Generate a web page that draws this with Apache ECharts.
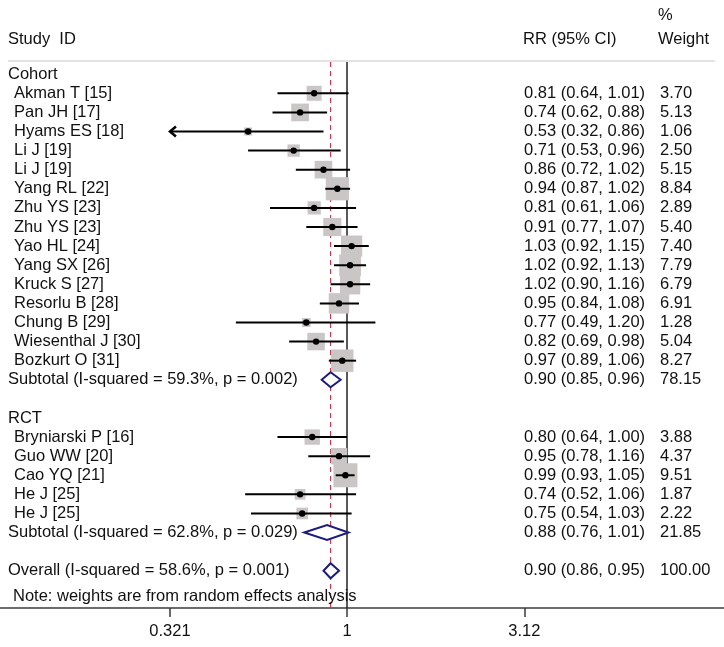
<!DOCTYPE html>
<html><head><meta charset="utf-8">
<script src="https://cdn.jsdelivr.net/npm/echarts@6/dist/echarts.min.js"></script>
<style>html,body{margin:0;padding:0;background:#fff}#c{width:724px;height:647px}</style>
</head><body><div id="c"></div>
<script>
// ---------------- data ----------------
const cohortNames = ['Akman T [15]','Pan JH [17]','Hyams ES [18]','Li J [19]','Li J [19]','Yang RL [22]','Zhu YS [23]','Zhu YS [23]','Yao HL [24]','Yang SX [26]','Kruck S [27]','Resorlu B [28]','Chung B [29]','Wiesenthal J [30]','Bozkurt O [31]'];
const cohortRR   = [0.81,0.74,0.53,0.71,0.86,0.94,0.81,0.91,1.03,1.02,1.02,0.95,0.77,0.82,0.97];
const cohortLow  = [0.64,0.62,0.32,0.53,0.72,0.87,0.61,0.77,0.92,0.92,0.90,0.84,0.49,0.69,0.89];
const cohortHigh = [1.01,0.88,0.86,0.96,1.02,1.02,1.06,1.07,1.15,1.13,1.16,1.08,1.20,0.98,1.06];
const cohortWeight = [3.70,5.13,1.06,2.50,5.15,8.84,2.89,5.40,7.40,7.79,6.79,6.91,1.28,5.04,8.27];

const rctNames = ['Bryniarski P [16]','Guo WW [20]','Cao YQ [21]','He J [25]','He J [25]'];
const rctRR    = [0.80,0.95,0.99,0.74,0.75];
const rctLow   = [0.64,0.78,0.93,0.52,0.54];
const rctHigh  = [1.00,1.16,1.05,1.06,1.03];
const rctWeight = [3.88,4.37,9.51,1.87,2.22];

const groupNames = ['Cohort','RCT'];
const subtotalLabels = ['Subtotal (I-squared = 59.3%, p = 0.002)','Subtotal (I-squared = 62.8%, p = 0.029)'];
const subtotalRR   = [0.90,0.88];
const subtotalLow  = [0.85,0.76];
const subtotalHigh = [0.96,1.01];
const subtotalWeight = [78.15,21.85];

const overallLabel = 'Overall (I-squared = 58.6%, p = 0.001)';
const overallRR = 0.90, overallLow = 0.86, overallHigh = 0.95, overallWeight = 100.00;
const noteText = 'Note: weights are from random effects analysis';

const xTickValues = [0.321, 1, 3.12];
const xTickLabels = ['0.321', '1', '3.12'];

// ---------------- layout ----------------
const FONT = '"Liberation Sans", Arial, sans-serif';
const FS = 16.5;
const X_NAME = 14, X_GROUP = 8, X_RR = 524, X_W = 660;
const BOX_K = 7.8;
const fmt = v => v.toFixed(2);
const rrText = (r,l,h) => fmt(r) + ' (' + fmt(l) + ', ' + fmt(h) + ')';

const studies = [];   // [rr, lo, hi, row, w]
const diamonds = [];  // [rr, lo, hi, row]
const texts = [];     // {row, x, text}
let row = 0;
function addGroup(gi, names, rr, lo, hi, w) {
  texts.push({row: row, x: X_GROUP, text: groupNames[gi]});
  row++;
  names.forEach((n, i) => {
    studies.push([rr[i], lo[i], hi[i], row, w[i]]);
    texts.push({row: row, x: X_NAME, text: n});
    texts.push({row: row, x: X_RR, text: rrText(rr[i], lo[i], hi[i])});
    texts.push({row: row, x: X_W, text: fmt(w[i])});
    row++;
  });
  diamonds.push([subtotalRR[gi], subtotalLow[gi], subtotalHigh[gi], row]);
  texts.push({row: row, x: X_GROUP, text: subtotalLabels[gi]});
  texts.push({row: row, x: X_RR, text: rrText(subtotalRR[gi], subtotalLow[gi], subtotalHigh[gi])});
  texts.push({row: row, x: X_W, text: fmt(subtotalWeight[gi])});
  row += 2;
}
addGroup(0, cohortNames, cohortRR, cohortLow, cohortHigh, cohortWeight);
addGroup(1, rctNames, rctRR, rctLow, rctHigh, rctWeight);
diamonds.push([overallRR, overallLow, overallHigh, row]);
texts.push({row: row, x: X_GROUP, text: overallLabel});
texts.push({row: row, x: X_RR, text: rrText(overallRR, overallLow, overallHigh)});
texts.push({row: row, x: X_W, text: fmt(overallWeight)});
texts.push({row: row + 1.37, x: 13, text: noteText});

const clipMin = xTickValues[0];
// pixel mapping: 1 at x=347, 155.8 px per ln unit, grid spans full width
const PX1 = 347, PPL = 155.8, W = 724;
const xMin = Math.exp(-PX1 / PPL), xMax = Math.exp((W - PX1) / PPL);
const ROW_TOP = -0.64;

const chart = echarts.init(document.getElementById('c'), null, {renderer: 'canvas'});
chart.setOption({
  animation: false,
  backgroundColor: '#fff',
  grid: {left: 0, right: 0, top: 16.9, bottom: 39, outerBoundsMode: 'none', containLabel: false},
  xAxis: {
    type: 'log', logBase: Math.E, min: xMin, max: xMax, position: 'bottom',
    splitLine: {show: false},
    axisLine: {onZero: false, lineStyle: {color: '#3a3a3a', width: 1.5}},
    axisTick: {customValues: xTickValues, length: 9, lineStyle: {color: '#3a3a3a', width: 1.5}},
    axisLabel: {customValues: xTickValues, margin: 15, fontSize: FS, fontFamily: FONT, color: '#111',
      formatter: v => { let bi = 0; xTickValues.forEach((t, i) => { if (Math.abs(Math.log(t) - Math.log(v)) < Math.abs(Math.log(xTickValues[bi]) - Math.log(v))) bi = i; }); return xTickLabels[bi]; }}
  },
  yAxis: {type: 'value', inverse: true, min: -3, max: 27.95, show: false},
  graphic: [
    {type: 'text', left: 8, top: 31, style: {text: 'Study  ID', font: FS + 'px ' + FONT, fill: '#111'}},
    {type: 'text', left: 523, top: 31, style: {text: 'RR (95% CI)', font: FS + 'px ' + FONT, fill: '#111'}},
    {type: 'text', left: 658, top: 7, style: {text: '%', font: FS + 'px ' + FONT, fill: '#111'}},
    {type: 'text', left: 658, top: 31, style: {text: 'Weight', font: FS + 'px ' + FONT, fill: '#111'}},
    {type: 'line', shape: {x1: 8, y1: 61, x2: 715, y2: 61}, style: {stroke: '#e4e2e2', lineWidth: 2}}
  ],
  series: [
    { // reference lines
      type: 'custom', z: 1, clip: false, coordinateSystem: 'cartesian2d',
      data: [[1, overallRR]],
      renderItem: (params, api) => {
        const cs = params.coordSys;
        const yb = cs.y + cs.height;
        const a = api.coord([api.value(0), ROW_TOP]);
        const b = api.coord([api.value(1), ROW_TOP]);
        return {type: 'group', children: [
          {type: 'line', shape: {x1: b[0], y1: b[1], x2: b[0], y2: yb}, style: {stroke: '#c8384f', lineWidth: 1.2, lineDash: [5, 4]}},
          {type: 'line', shape: {x1: a[0], y1: a[1], x2: a[0], y2: yb}, style: {stroke: '#222', lineWidth: 1.5}}
        ]};
      }
    },
    { // study boxes, CIs, points
      type: 'custom', z: 2, clip: false, coordinateSystem: 'cartesian2d',
      data: studies,
      renderItem: (params, api) => {
        const rr = api.value(0), lo = api.value(1), hi = api.value(2), r = api.value(3), w = api.value(4);
        const p = api.coord([rr, r]);
        const pl = api.coord([Math.max(lo, clipMin), r]);
        const ph = api.coord([hi, r]);
        const s = BOX_K * Math.sqrt(w);
        const ch = [
          {type: 'rect', shape: {x: p[0] - s / 2, y: p[1] - s / 2, width: s, height: s}, style: {fill: '#cbc6c6'}},
          {type: 'line', shape: {x1: pl[0], y1: p[1], x2: ph[0], y2: p[1]}, style: {stroke: '#000', lineWidth: 2}},
          {type: 'circle', shape: {cx: p[0], cy: p[1], r: 3.2}, style: {fill: '#000'}}
        ];
        if (lo < clipMin) {
          ch.push({type: 'polyline', shape: {points: [[pl[0] + 6, p[1] - 5], [pl[0], p[1]], [pl[0] + 6, p[1] + 5]]}, style: {stroke: '#000', lineWidth: 2.5, fill: null}});
        }
        return {type: 'group', children: ch};
      }
    },
    { // diamonds
      type: 'custom', z: 3, clip: false, coordinateSystem: 'cartesian2d',
      data: diamonds,
      renderItem: (params, api) => {
        const r = api.value(3);
        const p = api.coord([api.value(0), r]);
        const pl = api.coord([api.value(1), r]);
        const ph = api.coord([api.value(2), r]);
        const h = 7.5;
        return {type: 'polygon', shape: {points: [[pl[0], p[1]], [p[0], p[1] - h], [ph[0], p[1]], [p[0], p[1] + h]]},
          style: {fill: '#fff', stroke: '#1c1c7c', lineWidth: 2}};
      }
    },
    { // texts
      type: 'custom', z: 4, clip: false, coordinateSystem: 'cartesian2d',
      data: texts.map(t => [1, t.row]),
      renderItem: (params, api) => {
        const t = texts[params.dataIndex];
        const p = api.coord([1, api.value(1)]);
        return {type: 'text', x: t.x, y: p[1], style: {text: t.text, font: FS + 'px ' + FONT, fill: '#111', textVerticalAlign: 'middle', textAlign: 'left'}};
      }
    }
  ]
});
</script>
</body></html>
